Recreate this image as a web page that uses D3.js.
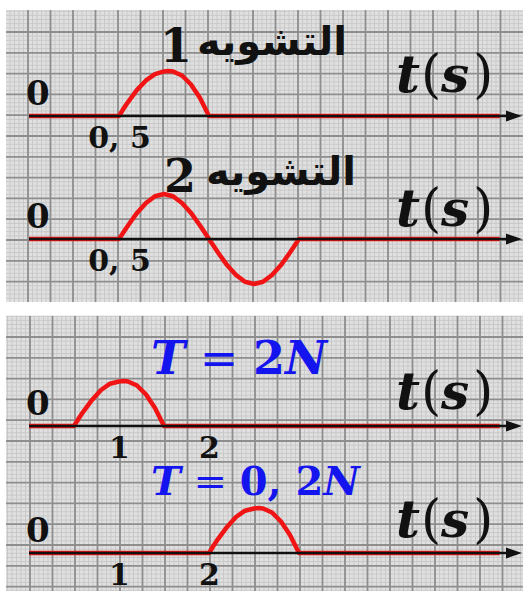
<!DOCTYPE html>
<html>
<head>
<meta charset="utf-8">
<script src="https://cdn.jsdelivr.net/npm/d3@7"></script>
<style>
body { margin: 0; background: #fff; }
text { font-family: "DejaVu Serif", serif; }
</style>
</head>
<body>
<svg id="chart" width="523" height="591"></svg>
<script>
// signals: [t, displacement]
var signal1 = [[0,0],[1,0],[1.05,0.16],[1.1,0.31],[1.2,0.58],[1.3,0.79],[1.4,0.93],[1.5,0.99],[1.55,1],[1.6,0.99],[1.7,0.9],[1.8,0.7],[1.9,0.4],[1.95,0.2],[2,0],[5.23,0]];
var signal2 = [[0,0],[1,0],[1.1,0.3],[1.2,0.58],[1.3,0.8],[1.4,0.95],[1.5,1],[1.6,0.95],[1.7,0.8],[1.8,0.58],[1.9,0.3],[2,0],[2.1,-0.3],[2.2,-0.58],[2.3,-0.8],[2.4,-0.95],[2.5,-1],[2.6,-0.95],[2.7,-0.8],[2.8,-0.58],[2.9,-0.3],[3,0],[5.23,0]];
var signal3 = [[0,0],[0.5,0],[0.55,0.16],[0.6,0.31],[0.7,0.58],[0.8,0.8],[0.9,0.94],[1,0.99],[1.05,1],[1.1,0.99],[1.2,0.9],[1.3,0.7],[1.4,0.4],[1.45,0.2],[1.5,0],[5.23,0]];
var signal4 = [[0,0],[2,0],[2.05,0.16],[2.1,0.31],[2.2,0.58],[2.3,0.8],[2.4,0.94],[2.5,0.99],[2.55,1],[2.6,0.99],[2.7,0.9],[2.8,0.7],[2.9,0.4],[2.95,0.2],[3,0],[5.23,0]];

var ticks1 = [[1, "0, 5"]];
var ticks2 = [[1, "0, 5"]];
var ticks3 = [[1, "1"], [2, "2"]];
var ticks4 = [[1, "1"], [2, "2"]];

var title1 = ["التشويه", "1"];
var title2 = ["التشويه", "2"];
var tension1 = ["T", " = ", "2", "N"];
var tension2 = ["T", " = ", "0, 2", "N"];

var svg = d3.select("#chart");

// graph paper panels
var panels = [
  {x: 6, y: 10, w: 517, h: 292, gx: 28, gy: 32},
  {x: 6, y: 316, w: 517, h: 275, gx: 30, gy: 337}
];
panels.forEach(function(p) {
  var g = svg.append("g");
  g.append("rect").attr("x", p.x).attr("y", p.y).attr("width", p.w).attr("height", p.h).attr("fill", "#e0e0e0");
  var stepX = 22.5, stepY = 20.8;
  var minorX = d3.range(p.gx - stepX, p.x + p.w, stepX / 5).filter(function(v){ return v >= p.x; });
  var minorY = d3.range(p.gy - stepY, p.y + p.h, stepY / 5).filter(function(v){ return v >= p.y; });
  g.selectAll(".mx").data(minorX).enter().append("line")
    .attr("x1", function(d){ return d; }).attr("x2", function(d){ return d; })
    .attr("y1", p.y).attr("y2", p.y + p.h)
    .attr("stroke", "#c9c9c9").attr("stroke-width", 1);
  g.selectAll(".my").data(minorY).enter().append("line")
    .attr("y1", function(d){ return d; }).attr("y2", function(d){ return d; })
    .attr("x1", p.x).attr("x2", p.x + p.w)
    .attr("stroke", "#c9c9c9").attr("stroke-width", 1);
  var majorX = d3.range(p.gx, p.x + p.w, stepX);
  var majorY = d3.range(p.gy, p.y + p.h, stepY);
  g.selectAll(".Mx").data(majorX).enter().append("line")
    .attr("x1", function(d){ return d; }).attr("x2", function(d){ return d; })
    .attr("y1", p.y).attr("y2", p.y + p.h)
    .attr("stroke", "#8e8e8e").attr("stroke-width", 1.8);
  g.selectAll(".My").data(majorY).enter().append("line")
    .attr("y1", function(d){ return d; }).attr("y2", function(d){ return d; })
    .attr("x1", p.x).attr("x2", p.x + p.w)
    .attr("stroke", "#8e8e8e").attr("stroke-width", 1.8);
});

var x = d3.scaleLinear().domain([0, 5.5]).range([29, 524]);

function drawSignal(data, axisY, ticks, tsY) {
  var y = d3.scaleLinear().domain([-1, 1]).range([axisY + 45, axisY - 45]);
  var g = svg.append("g");

  var line = d3.line()
    .x(function(d){ return x(d[0]); })
    .y(function(d){ return y(d[1]); });

  g.append("path")
    .attr("d", line(data))
    .attr("fill", "none")
    .attr("stroke", "#f01414")
    .attr("stroke-width", 4.5)
    .attr("stroke-linejoin", "round");

  // time axis with arrow
  g.append("line")
    .attr("x1", x(0)).attr("x2", 516)
    .attr("y1", y(0)).attr("y2", y(0))
    .attr("stroke", "#111").attr("stroke-width", 2.4);
  g.append("path")
    .attr("d", "M506," + (y(0) - 5.5) + "L522," + y(0) + "L506," + (y(0) + 5.5) + "Z")
    .attr("fill", "#111");

  var axis = d3.axisBottom(x)
    .tickValues(ticks.map(function(d){ return d[0]; }))
    .tickFormat(function(d, i){ return ticks[i][1]; })
    .tickSize(0)
    .tickPadding(11);
  var ag = g.append("g").attr("transform", "translate(0," + y(0) + ")").call(axis);
  ag.select(".domain").remove();
  ag.selectAll("text")
    .attr("font-family", "DejaVu Serif")
    .attr("font-size", 30)
    .attr("font-weight", "bold")
    .attr("fill", "#111");

  g.append("text")
    .attr("x", x(0) - 3).attr("y", y(0) - 11)
    .attr("font-size", 34).attr("font-weight", "bold").attr("fill", "#111")
    .text("0");

  // t(s) with thin tall parentheses
  var ts = g.append("text").attr("y", tsY).attr("fill", "#111");
  ts.append("tspan").attr("x", 396).attr("font-size", 52).attr("font-weight", "bold").attr("font-style", "italic").text("t");
  ts.append("tspan").attr("x", 421).attr("font-size", 52).attr("font-weight", 300).text("(");
  ts.append("tspan").attr("x", 441).attr("font-size", 50).attr("font-weight", "bold").attr("font-style", "italic").text("s");
  ts.append("tspan").attr("x", 473).attr("font-size", 52).attr("font-weight", 300).text(")");
}

drawSignal(signal1, 116, ticks1, 92);
drawSignal(signal2, 239, ticks2, 226);
drawSignal(signal3, 426, ticks3, 409);
drawSignal(signal4, 553, ticks4, 537);

// titles of the two perturbations
function arabicTitle(t, xAr, xNum, yAr, yNum) {
  svg.append("text")
    .attr("x", xAr).attr("y", yAr)
    .attr("text-anchor", "end")
    .style("font-family", "'DejaVu Sans', sans-serif")
    .attr("font-size", 40).attr("font-weight", "bold").attr("fill", "#111")
    .text(t[0]);
  svg.append("text")
    .attr("x", xNum).attr("y", yNum)
    .attr("font-size", 46).attr("font-weight", "bold").attr("fill", "#111")
    .text(t[1]);
}
arabicTitle(title1, 347, 160, 55, 62);
arabicTitle(title2, 356, 164, 185, 192);

// tension labels
function tensionLabel(t, x0, y0, size) {
  var tx = svg.append("text")
    .attr("x", x0).attr("y", y0)
    .attr("font-size", size).attr("fill", "#1414ee")
    .attr("xml:space", "preserve");
  tx.append("tspan").attr("font-weight", "bold").attr("font-style", "italic").text(t[0]);
  tx.append("tspan").text(t[1]);
  tx.append("tspan").attr("font-weight", "bold").text(t[2]);
  tx.append("tspan").attr("font-weight", "bold").attr("font-style", "italic").text(t[3]);
}
tensionLabel(tension1, 151, 374, 46);
tensionLabel(tension2, 151, 495, 40);
</script>
</body>
</html>
